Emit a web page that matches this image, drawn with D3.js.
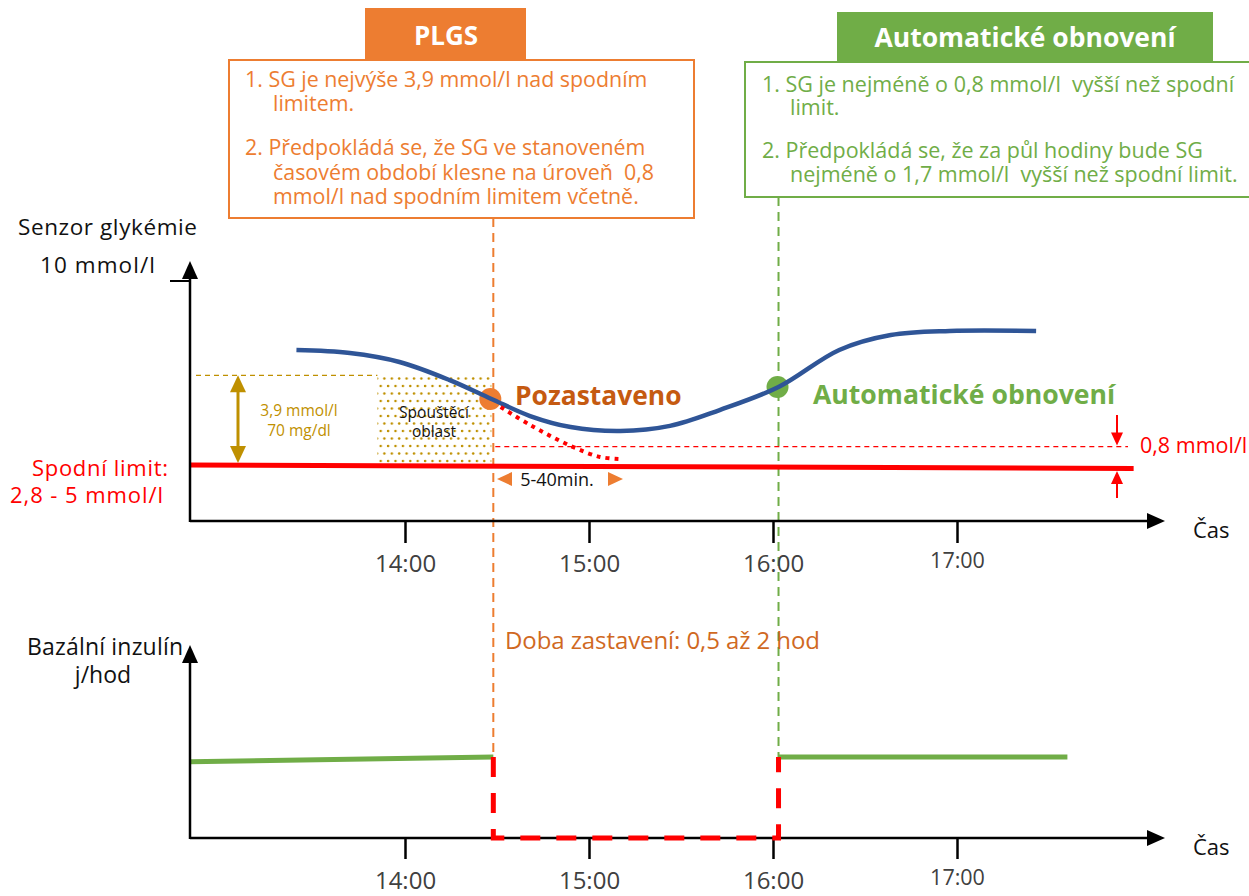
<!DOCTYPE html>
<html><head><meta charset="utf-8">
<script src="https://cdn.jsdelivr.net/npm/d3@7"></script>
<style>body{margin:0;background:#fff}svg{display:block;font-family:"Open Sans",sans-serif}text{white-space:pre}</style>
</head><body><svg id="c" width="1249" height="896"></svg>
<script>
// ---- data ----
const tickHours = [14, 15, 16, 17];
const tickLabels = ["14:00", "15:00", "16:00", "17:00"];
const sgTimes  = [13.41, 13.70, 13.97, 14.24, 14.47, 14.68, 14.90, 15.17, 15.44, 15.71, 16.03, 16.36, 16.64, 16.96, 17.43];
const sgValues = [7.0, 6.87, 6.48, 5.70, 4.87, 4.13, 3.65, 3.48, 3.70, 4.39, 5.39, 7.0, 7.65, 7.83, 7.83];
const predTimes  = [14.52, 14.68, 14.90, 15.06, 15.17];
const predValues = [4.52, 3.74, 2.83, 2.35, 2.26];
const lowLimitTimes = [12.83, 17.96];
const lowLimitValues = [2.0, 1.85];
const triggerRange = 3.9;      // mmol/l above the low limit
const resumeMargin = 0.8;      // mmol/l above the low limit
const suspendTime = 14.48;
const resumeTime = 16.03;
const triggerStart = 13.85;
const suspendSG = 4.87;
const resumeSG = 5.39;
const basalBeforeTimes = [12.83, 14.48];
const basalBeforeValues = [0.94, 1.0];
const basalAfterTimes = [16.03, 17.60];
const basalAfterValues = [1.0, 1.0];
const plgsLines = [
  ["1. SG je nejvýše 3,9 mmol/l nad spodním", 0],
  ["limitem.", 1],
  ["2. Předpokládá se, že SG ve stanoveném", 0],
  ["časovém období klesne na úroveň  0,8", 1],
  ["mmol/l nad spodním limitem včetně.", 1]
];
const autoLines = [
  ["1. SG je nejméně o 0,8 mmol/l  vyšší než spodní", 0],
  ["limit.", 1],
  ["2. Předpokládá se, že za půl hodiny bude SG", 0],
  ["nejméně o 1,7 mmol/l  vyšší než spodní limit.", 1]
];

// ---- colors ----
const ORANGE = "#ED7D31", DORANGE = "#C55A11", GREEN = "#70AD47", BLUE = "#2F5597",
      RED = "#FF0000", GOLD = "#BF9000", GREY = "#404040";

const svg = d3.select("#c");
const x = d3.scaleLinear().domain([14, 15]).range([405, 589]);
const y = d3.scaleLinear().domain([2.0, 10]).range([465, 281]);
const yb = d3.scaleLinear().domain([0, 1]).range([838, 757]);
const X0 = 190, XEND = 1165, AX1 = 521, AX2 = 838;
const lowLimit = lowLimitValues[0];

function txt(str, xx, yy, size, color, opts) {
  opts = opts || {};
  const t = svg.append("text").attr("x", xx).attr("y", yy).attr("font-size", size)
    .attr("fill", color || "#111").attr("text-anchor", opts.anchor || "start").text(str);
  if (opts.bold) t.attr("font-weight", "bold");
  if (opts.width) t.attr("textLength", opts.width).attr("lengthAdjust", "spacing");
  return t;
}

// defs: dot pattern
const defs = svg.append("defs");
const pat = defs.append("pattern").attr("id", "dots").attr("patternUnits", "userSpaceOnUse")
  .attr("width", 7.4).attr("height", 15).attr("x", 375).attr("y", 376);
pat.append("circle").attr("cx", 2).attr("cy", 2.5).attr("r", 1.25).attr("fill", GOLD);
pat.append("circle").attr("cx", 5.7).attr("cy", 10).attr("r", 1.25).attr("fill", GOLD);

// ---- top boxes ----
svg.append("rect").attr("x", 229).attr("y", 60).attr("width", 465).attr("height", 158)
  .attr("fill", "#fff").attr("stroke", ORANGE).attr("stroke-width", 2);
svg.append("rect").attr("x", 365).attr("y", 8).attr("width", 161).attr("height", 52).attr("fill", ORANGE);
txt("PLGS", 446, 45, 26, "#fff", {anchor: "middle", bold: true});
const plgsY = [87, 111, 155, 180, 204];
plgsLines.forEach((d, i) => txt(d[0], d[1] ? 273 : 245, plgsY[i], 21.4, ORANGE));

svg.append("rect").attr("x", 745).attr("y", 62).attr("width", 510).attr("height", 135)
  .attr("fill", "#fff").attr("stroke", GREEN).attr("stroke-width", 2);
svg.append("rect").attr("x", 837).attr("y", 12).attr("width", 376).attr("height", 50).attr("fill", GREEN);
txt("Automatické obnovení", 1025, 47, 26.5, "#fff", {anchor: "middle", bold: true});
const autoY = [92, 115, 158, 182];
autoLines.forEach((d, i) => txt(d[0], d[1] ? 790 : 762, autoY[i], 21.5, GREEN));

// ---- vertical dashed event lines ----
svg.append("line").attr("x1", x(suspendTime)).attr("x2", x(suspendTime)).attr("y1", 218).attr("y2", yb(1))
  .attr("stroke", ORANGE).attr("stroke-width", 2).attr("stroke-dasharray", "9,6");
svg.append("line").attr("x1", x(resumeTime)).attr("x2", x(resumeTime)).attr("y1", 197).attr("y2", yb(1))
  .attr("stroke", GREEN).attr("stroke-width", 2).attr("stroke-dasharray", "9,6");

// ---- trigger zone ----
svg.append("rect").attr("x", x(triggerStart)).attr("y", y(lowLimit + triggerRange))
  .attr("width", x(suspendTime) - x(triggerStart) - 2).attr("height", y(lowLimit) - y(lowLimit + triggerRange) - 2)
  .attr("fill", "url(#dots)");
svg.append("line").attr("x1", 196).attr("x2", x(triggerStart)).attr("y1", y(lowLimit + triggerRange)).attr("y2", y(lowLimit + triggerRange))
  .attr("stroke", GOLD).attr("stroke-width", 1.3).attr("stroke-dasharray", "5,4");
txt("Spouštěcí", 434, 418, 15.5, "#111", {anchor: "middle"});
txt("oblast", 434, 437, 15.5, "#111", {anchor: "middle"});

// gold double arrow
const ga = 238, gt = y(lowLimit + triggerRange), gb = y(lowLimit);
svg.append("line").attr("x1", ga).attr("x2", ga).attr("y1", gt + 10).attr("y2", gb - 10).attr("stroke", GOLD).attr("stroke-width", 3);
svg.append("path").attr("d", `M${ga},${gt}L${ga - 8},${gt + 17}L${ga + 8},${gt + 17}Z`).attr("fill", GOLD);
svg.append("path").attr("d", `M${ga},${gb - 2}L${ga - 8},${gb - 19}L${ga + 8},${gb - 19}Z`).attr("fill", GOLD);
txt("3,9 mmol/l", 299, 416, 15.5, GOLD, {anchor: "middle"});
txt("70 mg/dl", 299, 436, 15.5, GOLD, {anchor: "middle"});

// ---- threshold dashed line ----
svg.append("line").attr("x1", x(suspendTime) + 2).attr("x2", 1128).attr("y1", y(lowLimit + resumeMargin)).attr("y2", y(lowLimit + resumeMargin))
  .attr("stroke", RED).attr("stroke-width", 1.2).attr("stroke-dasharray", "5,4");

// ---- low limit line ----
const line = d3.line().x(d => x(d[0])).y(d => y(d[1]));
svg.append("path").attr("d", line(d3.zip(lowLimitTimes, lowLimitValues)))
  .attr("fill", "none").attr("stroke", RED).attr("stroke-width", 5);
// red arrows right
const ra = 1117;
const ty = y(lowLimit + resumeMargin);
svg.append("line").attr("x1", ra).attr("x2", ra).attr("y1", 415).attr("y2", ty - 10).attr("stroke", RED).attr("stroke-width", 2);
svg.append("path").attr("d", `M${ra},${ty - 1}L${ra - 6},${ty - 14}L${ra + 6},${ty - 14}Z`).attr("fill", RED);
svg.append("line").attr("x1", ra).attr("x2", ra).attr("y1", 484).attr("y2", 498).attr("stroke", RED).attr("stroke-width", 2);
svg.append("path").attr("d", `M${ra},471L${ra - 6},484L${ra + 6},484Z`).attr("fill", RED);
txt("0,8 mmol/l", 1140, 453, 21.5, RED);

// ---- SG curve ----
const curve = d3.line().x(d => x(d[0])).y(d => y(d[1])).curve(d3.curveCatmullRom.alpha(0.5));
svg.append("circle").attr("cx", x(suspendTime) - 3).attr("cy", y(suspendSG)).attr("r", 11).attr("fill", ORANGE);
svg.append("circle").attr("cx", x(resumeTime) - 1).attr("cy", y(resumeSG)).attr("r", 11).attr("fill", GREEN);
svg.append("path").attr("d", curve(d3.zip(sgTimes, sgValues))).attr("fill", "none").attr("stroke", BLUE).attr("stroke-width", 4.5);
svg.append("path").attr("d", curve(d3.zip(predTimes, predValues))).attr("fill", "none")
  .attr("stroke", RED).attr("stroke-width", 4).attr("stroke-dasharray", "4,5");

txt("Pozastaveno", 515, 405, 26.4, DORANGE, {bold: true});
txt("Automatické obnovení", 813, 404, 26.6, GREEN, {bold: true});

// 5-40min
svg.append("path").attr("d", "M497,479L512,472L512,486Z").attr("fill", ORANGE);
svg.append("path").attr("d", "M623,479L608,472L608,486Z").attr("fill", ORANGE);
txt("5-40min.", 557, 486, 18, "#111", {anchor: "middle"});

// ---- axes ----
function axes(yAxisTop, yAxisBottom, tickLen, pad) {
  const g = svg.append("g").attr("transform", `translate(0,${yAxisBottom})`);
  const ax = d3.axisBottom(x).tickValues(tickHours).tickFormat((d, i) => tickLabels[i]).tickSize(tickLen).tickPadding(pad);
  g.call(ax);
  g.select(".domain").remove();
  g.selectAll(".tick line").attr("stroke", "#000").attr("stroke-width", 2.5);
  g.selectAll(".tick text").attr("font-family", "Open Sans").attr("font-size", 24).attr("fill", GREY);
  g.selectAll(".tick text").filter(d => d === 17).attr("font-size", 21.5).attr("dy", "0.6em");
  svg.append("line").attr("x1", X0).attr("x2", XEND - 15).attr("y1", yAxisBottom).attr("y2", yAxisBottom).attr("stroke", "#000").attr("stroke-width", 2.5);
  svg.append("path").attr("d", `M${XEND},${yAxisBottom}L${XEND - 18},${yAxisBottom - 8}L${XEND - 18},${yAxisBottom + 8}Z`).attr("fill", "#000");
  svg.append("line").attr("x1", X0).attr("x2", X0).attr("y1", yAxisBottom + 1).attr("y2", yAxisTop + 15).attr("stroke", "#000").attr("stroke-width", 2.5);
  svg.append("path").attr("d", `M${X0},${yAxisTop}L${X0 - 8},${yAxisTop + 18}L${X0 + 8},${yAxisTop + 18}Z`).attr("fill", "#000");
  txt("Čas", 1193, yAxisBottom + 17, 22, "#111");
}
axes(261, AX1, 22, 12);

// ---- bottom chart: basal ----
const bl = d3.line().x(d => x(d[0])).y(d => yb(d[1]));
svg.append("path").attr("d", bl(d3.zip(basalBeforeTimes, basalBeforeValues))).attr("fill", "none").attr("stroke", GREEN).attr("stroke-width", 5);
svg.append("path").attr("d", bl(d3.zip(basalAfterTimes, basalAfterValues))).attr("fill", "none").attr("stroke", GREEN).attr("stroke-width", 5);
axes(645, AX2, 21, 13);
svg.append("path").attr("d", bl([[suspendTime, 1], [suspendTime, 0], [resumeTime, 0], [resumeTime, 1]]))
  .attr("fill", "none").attr("stroke", RED).attr("stroke-width", 5).attr("stroke-dasharray", "20,16");

// ---- left / center labels ----
svg.append("line").attr("x1", 170).attr("x2", X0).attr("y1", y(10)).attr("y2", y(10)).attr("stroke", "#000").attr("stroke-width", 2);
txt("Senzor glykémie", 18, 235, 22.5, "#111", {width: 179});
txt("10 mmol/l", 40, 273, 22.5, "#111", {width: 115});
txt("Spodní limit:", 32, 476, 22, RED, {width: 136});
txt("2,8 - 5 mmol/l", 10, 503, 22, RED, {width: 153});
txt("Bazální inzulín", 27, 655, 23, "#111", {width: 156});
txt("j/hod", 103, 683, 23, "#111", {anchor: "middle"});
txt("Doba zastavení: 0,5 až 2 hod", 505, 649, 24, "#D0691F", {width: 315});
</script></body></html>
